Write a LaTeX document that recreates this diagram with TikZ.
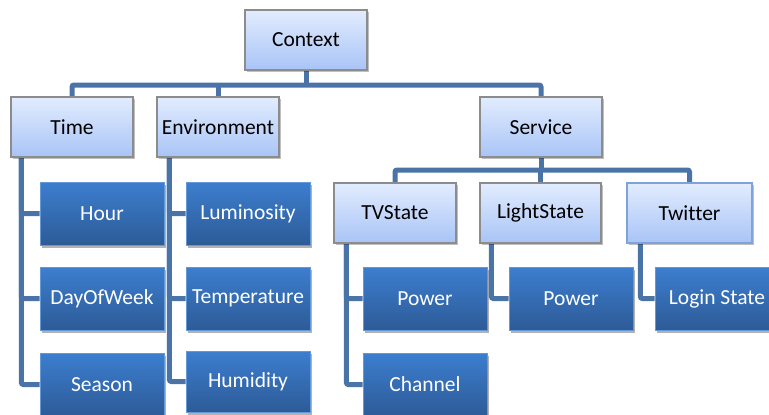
\documentclass[tikz,border=0pt]{standalone}
\usepackage{fontspec}
\setmainfont{Carlito}[Ligatures=NoCommon]
\usetikzlibrary{shadows,backgrounds}
\definecolor{litetop}{HTML}{E2ECFE}
\definecolor{litebot}{HTML}{A8C4F6}
\definecolor{darktop}{HTML}{3C7ECF}
\definecolor{darkbot}{HTML}{2D5B97}
\definecolor{connc}{HTML}{4A74A8}
\definecolor{liteedge}{HTML}{8C8C8C}
\definecolor{twedge}{HTML}{7FA2D8}
\tikzset{
  basebox/.style={minimum width=122pt, minimum height=60pt, inner sep=0pt,
    font=\fontsize{21.5}{25}\selectfont},
  litebox/.style={basebox, draw=liteedge, line width=1.3pt,
    top color=litetop, bottom color=litebot, text=black,
    drop shadow={shadow xshift=1.5pt, shadow yshift=-2pt, opacity=0.25, fill=black}},
  darkbox/.style={basebox, minimum width=124pt, minimum height=63pt,
    draw=darktop!80!white, line width=0.6pt,
    top color=darktop, bottom color=darkbot, text=white,
    drop shadow={shadow xshift=1.5pt, shadow yshift=-2.5pt, opacity=0.3, fill=black}},
  conn/.style={draw=connc, line width=5pt, rounded corners=2pt}
}
\begin{document}
\begin{tikzpicture}[x=1pt,y=-1pt]
\useasboundingbox (0,0) rectangle (769,415);
\clip (0,0) rectangle (769,415);
% top level
\node[litebox] (ctx) at (306,40) {Context};
\node[litebox] (time) at (72,127) {Time};
\node[litebox] (env) at (218,127) {Environment};
\node[litebox] (service) at (541,127) {Service};
% Time children
\node[darkbox] (hour) at (102,213.5) {Hour};
\node[darkbox] (dow) at (102,298.5) {DayOfWeek};
\node[darkbox] (season) at (102,384.5) {Season};
% Environment children
\node[darkbox] (lum) at (248,213.5) {Luminosity};
\node[darkbox] (temp) at (248,298.5) {Temperature};
\node[darkbox, minimum height=61pt] (hum) at (248,381.5) {Humidity};
% Service children
\node[litebox] (tv) at (395,213) {TVState};
\node[litebox, minimum width=121pt] (light) at (540.5,213) {LightState};
\node[litebox, minimum width=125pt, draw=twedge] (twit) at (689.5,213) {Twitter};
\node[darkbox] (pow1) at (425,298.5) {Power};
\node[darkbox] (chan) at (425,384.5) {Channel};
\node[darkbox] (pow2) at (571,298.5) {Power};
\node[darkbox] (login) at (717,298.5) {Login State};
% connectors
\coordinate (busA) at (0,85);
\coordinate (busB) at (0,170);
\begin{scope}[on background layer]
\draw[conn] (ctx.south) -- (ctx.south |- busA);
\draw[conn] (time.north) -- (time.north |- busA) -- (service.north |- busA) -- (service.north);
\draw[conn] (env.north) -- (env.north |- busA);
\draw[conn] (service.south) -- (service.south |- busB);
\draw[conn] (tv.north) -- (tv.north |- busB) -- (twit.north |- busB) -- (twit.north);
\draw[conn] (light.north) -- (light.north |- busB);
% spines
\coordinate (sT) at ([xshift=11pt]time.south west);
\draw[conn] (sT) |- (hour.west);
\draw[conn] (sT) |- (dow.west);
\draw[conn] (sT) |- (season.west);
\coordinate (sE) at ([xshift=13pt]env.south west);
\draw[conn] (sE) |- (lum.west);
\draw[conn] (sE) |- (temp.west);
\draw[conn] (sE) |- (hum.west);
\coordinate (sV) at ([xshift=13pt]tv.south west);
\draw[conn] (sV) |- (pow1.west);
\draw[conn] (sV) |- (chan.west);
\coordinate (sL) at ([xshift=12pt]light.south west);
\draw[conn] (sL) |- (pow2.west);
\coordinate (sW) at ([xshift=14pt]twit.south west);
\draw[conn] (sW) |- (login.west);
\end{scope}
\end{tikzpicture}
\end{document}
